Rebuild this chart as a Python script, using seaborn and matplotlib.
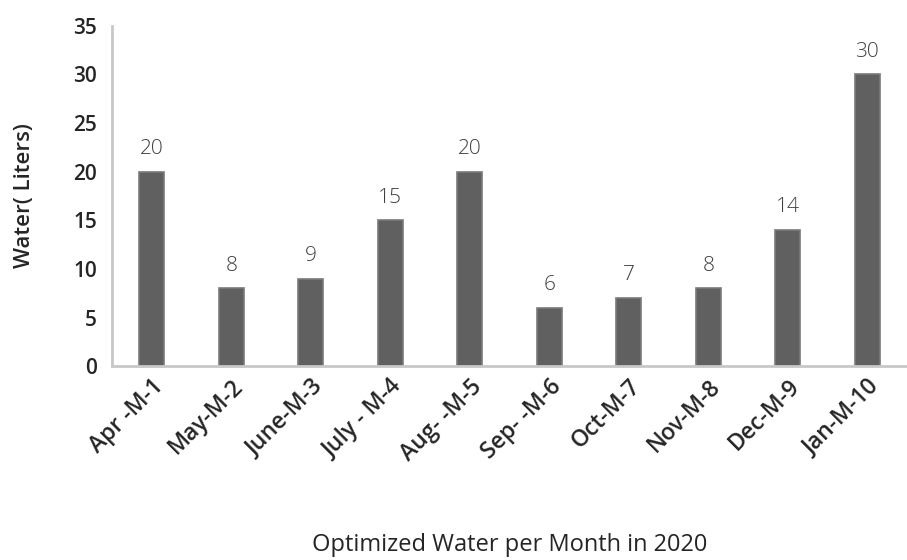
import pandas as pd
import matplotlib
matplotlib.use("Agg")
import matplotlib.pyplot as plt
import seaborn as sns

# data
months = ["Apr -M-1", "May-M-2", "June-M-3", "July - M-4", "Aug- -M-5",
          "Sep- -M-6", "Oct-M-7", "Nov-M-8", "Dec-M-9", "Jan-M-10"]
water = [20, 8, 9, 15, 20, 6, 7, 8, 14, 30]
yticks = [0, 5, 10, 15, 20, 25, 30, 35]

df = pd.DataFrame({"Month": months, "Water": water})

sns.set_theme(style="white")
plt.rcParams["font.family"] = ["Open Sans", "DejaVu Sans"]

fig = plt.figure(figsize=(9.07, 5.6), dpi=100)
ax = fig.add_axes([0.1235, 0.346, 0.8765, 0.608])

sns.barplot(data=df, x="Month", y="Water", color="#606060", width=0.31,
            edgecolor="#7a7a7a", linewidth=1.2, saturation=1, ax=ax)

# value labels above bars
for i, v in enumerate(water):
    ax.text(i, v + 1.3, str(v), ha="center", va="bottom",
            fontsize=15, color="#404040", fontweight="light")

ax.set_ylim(0, 35)
ax.set_yticks(yticks)
ax.set_xlim(-0.5, len(months) - 0.5)
ax.tick_params(axis="both", length=0)
ax.tick_params(axis="y", labelsize=15, labelcolor="#252525", pad=11)
ax.tick_params(axis="x", pad=6)
ax.set_xticks(range(len(months)))
ax.set_xticklabels(months, rotation=45, ha="right", rotation_mode="anchor",
                   fontsize=16.5, color="#252525")
for lab in ax.get_yticklabels():
    lab.set_fontweight("semibold")
for lab in ax.get_xticklabels():
    lab.set_fontweight("semibold")

for s in ["top", "right"]:
    ax.spines[s].set_visible(False)
for s in ["left", "bottom"]:
    ax.spines[s].set_color("#c8c8c8")
    ax.spines[s].set_linewidth(2)

ax.set_ylabel("Water( Liters)", fontsize=16, color="#252525",
              fontweight="semibold")
ax.yaxis.set_label_coords(-0.097, 0.5)
ax.set_xlabel("Optimized Water per Month in 2020", fontsize=17,
              color="#252525")
ax.xaxis.set_label_coords(0.5, -0.49)

fig.savefig("out.png", dpi=100)
